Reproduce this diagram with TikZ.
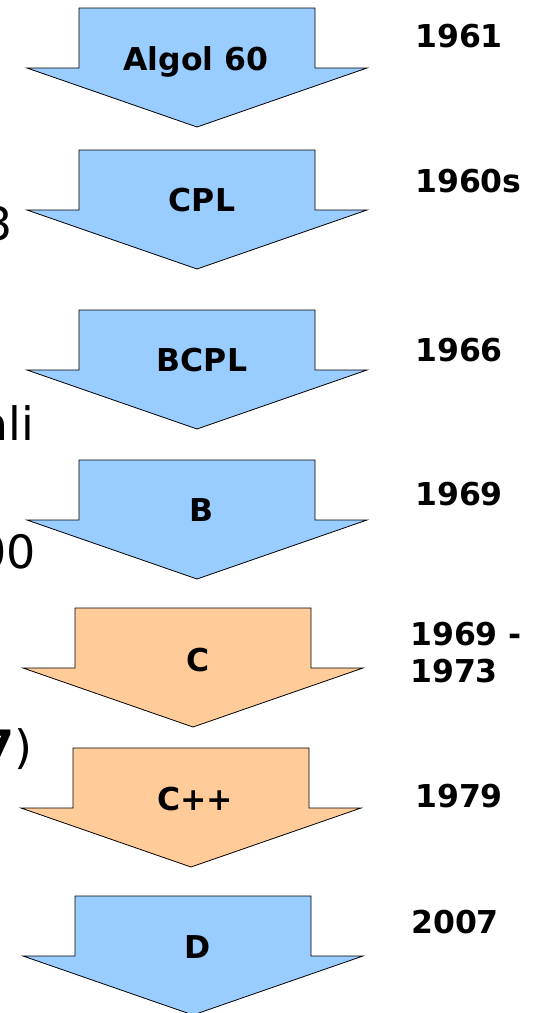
\documentclass[tikz,border=0pt]{standalone}
\usepackage{fontspec}
\setmainfont{DejaVu Sans}
\usetikzlibrary{positioning}

\definecolor{langblue}{HTML}{99CCFF}
\definecolor{langorange}{HTML}{FFCC99}

\begin{document}
\begin{tikzpicture}[x=1pt,y=-1pt,
    langarrow/.pic={
      % shaft, then wings and tip
      \path[pic actions] (0,0) -- (236,0) -- (236,60) -- (288,60)
        -- (118,119) -- (-52,60) -- (0,60) -- cycle;
      },
    blueshape/.style={draw=black,fill=langblue,line width=0.8pt},
    orangeshape/.style={draw=black,fill=langorange,line width=0.8pt},
    lang/.style={font=\fontsize{31.5}{37}\selectfont\bfseries,
      inner sep=0pt,anchor=base},
    year/.style={font=\fontsize{31.5}{37}\selectfont\bfseries,
      inner sep=0pt,anchor=base west,align=left},
    behind/.style={font=\fontsize{46}{55}\selectfont,
      inner sep=0pt,anchor=base east}]
  \useasboundingbox (0,0) rectangle (541,1013);

  % text of the slide behind the arrows
  \node (behind-cpl) [behind] at (13,240) {3};
  \node (behind-bcpl) [behind] at (34,440) {ali};
  \node (behind-b) [behind] at (36,568) {00};
  \node (behind-c) [behind] at (33,763) {\textbf{7})};

  % the arrows
  \pic[blueshape] at (79,8) {langarrow};
  \pic[blueshape] at (79,150) {langarrow};
  \pic[blueshape] at (79,310) {langarrow};
  \pic[blueshape] at (79,460) {langarrow};
  \pic[orangeshape] at (75,608) {langarrow};
  \pic[orangeshape] at (73,748) {langarrow};
  \pic[blueshape] at (75,896) {langarrow};

  \node (algol) [lang] at (196,70) {Algol 60};
  \node (cpl) [lang] at (202,211) {CPL};
  \node (bcpl) [lang] at (202,371) {BCPL};
  \node (b) [lang] at (202,521) {B};
  \node (c) [lang] at (198,671) {C};
  \node (cpp) [lang] at (195,810) {C++};
  \node (d) [lang] at (198,958) {D};

  % years
  \node (y-algol) [year] at (415,47) {1961};
  \node (y-cpl) [year] at (415,192) {1960s};
  \node (y-bcpl) [year] at (415,361) {1966};
  \node (y-b) [year] at (415,505) {1969};
  \node (y-c) [year] at (410,682) {1969 -\\1973};
  \node (y-cpp) [year] at (415,807) {1979};
  \node (y-d) [year] at (411,933) {2007};
\end{tikzpicture}
\end{document}
